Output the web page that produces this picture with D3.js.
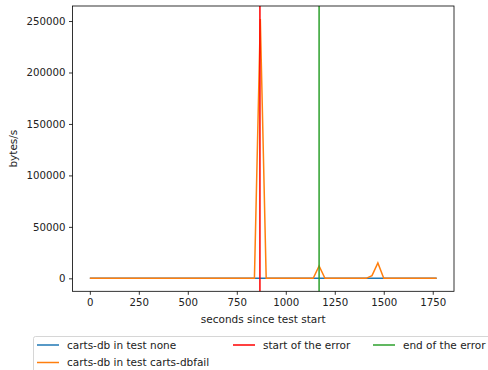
<!DOCTYPE html>
<html><head><meta charset="utf-8">
<script src="https://cdn.jsdelivr.net/npm/d3@7"></script>
<style>
body{margin:0;background:#fff;}
text{font-family:"DejaVu Sans",sans-serif;}
</style></head>
<body><svg id="c" width="488" height="370"></svg>
<script>
// sample times (seconds since test start)
const times = d3.range(0, 1771, 30);
// carts-db in test none: flat at ~0
const seriesNone = times.map(() => 0);
// carts-db in test carts-dbfail
const seriesFail = times.map(t => {
  if (t === 870) return 252000;
  if (t === 1170) return 12000;
  if (t === 1440) return 2600;
  if (t === 1470) return 15000;
  return 0;
});
const errorStart = 868;
const errorEnd = 1170;
const xTicks = [0, 250, 500, 750, 1000, 1250, 1500, 1750];
const yTicks = [0, 50000, 100000, 150000, 200000, 250000];
const legendLabels = ["carts-db in test none", "carts-db in test carts-dbfail", "start of the error", "end of the error"];
const colors = ["#1f77b4", "#ff7f0e", "#ff0000", "#2ca02c"];

const FS = 10.5;
const svg = d3.select("#c");
const L = 72.5, R = 454, T = 6, B = 291.3;
const xMin = 0, xMax = 1770, xm = (xMax - xMin) * 0.05;
const x = d3.scaleLinear().domain([xMin - xm, xMax + xm]).range([L, R]);
const yMax = d3.max(seriesFail), ym = yMax * 0.05;
const y = d3.scaleLinear().domain([-ym, yMax + ym]).range([B, T]);

const line = d3.line().x((d, i) => x(times[i])).y(d => y(d));
const g = svg.append("g");
g.append("path").datum(seriesNone).attr("d", line).attr("fill", "none").attr("stroke", colors[0]).attr("stroke-width", 1.5);
g.append("path").datum(seriesFail).attr("d", line).attr("fill", "none").attr("stroke", colors[1]).attr("stroke-width", 1.5);
g.append("line").attr("x1", x(errorStart)).attr("x2", x(errorStart)).attr("y1", T).attr("y2", B).attr("stroke", colors[2]).attr("stroke-width", 1.5);
g.append("line").attr("x1", x(errorEnd)).attr("x2", x(errorEnd)).attr("y1", T).attr("y2", B).attr("stroke", colors[3]).attr("stroke-width", 1.5);

// axes
const xa = svg.append("g").attr("transform", `translate(0,${B})`)
  .call(d3.axisBottom(x).tickValues(xTicks).tickFormat(d3.format("d")).tickSize(3.5).tickPadding(3.5));
const ya = svg.append("g").attr("transform", `translate(${L},0)`)
  .call(d3.axisLeft(y).tickValues(yTicks).tickFormat(d3.format("d")).tickSize(3.5).tickPadding(3.5));
[xa, ya].forEach(a => {
  a.select(".domain").remove();
  a.selectAll(".tick line").attr("stroke", "#000").attr("stroke-width", 0.8);
  a.selectAll(".tick text").attr("font-size", 10.2).attr("fill", "#222").attr("font-family", "DejaVu Sans");
});
svg.append("rect").attr("x", L).attr("y", T).attr("width", R - L).attr("height", B - T)
  .attr("fill", "none").attr("stroke", "#000").attr("stroke-width", 0.8);

svg.append("text").attr("x", (L + R) / 2).attr("y", 322.5).attr("text-anchor", "middle").attr("font-size", FS).attr("fill", "#222").text("seconds since test start");
svg.append("text").attr("transform", `translate(17,${(T + B) / 2}) rotate(-90)`).attr("text-anchor", "middle").attr("font-size", FS).attr("fill", "#222").text("bytes/s");

// legend
const lg = svg.append("g");
lg.append("rect").attr("x", 33.5).attr("y", 336.5).attr("width", 470).attr("height", 40).attr("rx", 2)
  .attr("fill", "#fff").attr("fill-opacity", 0.8).attr("stroke", "#ccc").attr("stroke-width", 0.8);
const pos = [[37, 345], [37, 362.5], [233, 345], [373, 345]];
legendLabels.forEach((lab, i) => {
  const [px, py] = pos[i];
  lg.append("line").attr("x1", px).attr("x2", px + 22).attr("y1", py).attr("y2", py).attr("stroke", colors[i]).attr("stroke-width", 1.5);
  lg.append("text").attr("x", px + 30).attr("y", py + 3.8).attr("font-size", FS).attr("fill", "#222").text(lab);
});
</script></body></html>
